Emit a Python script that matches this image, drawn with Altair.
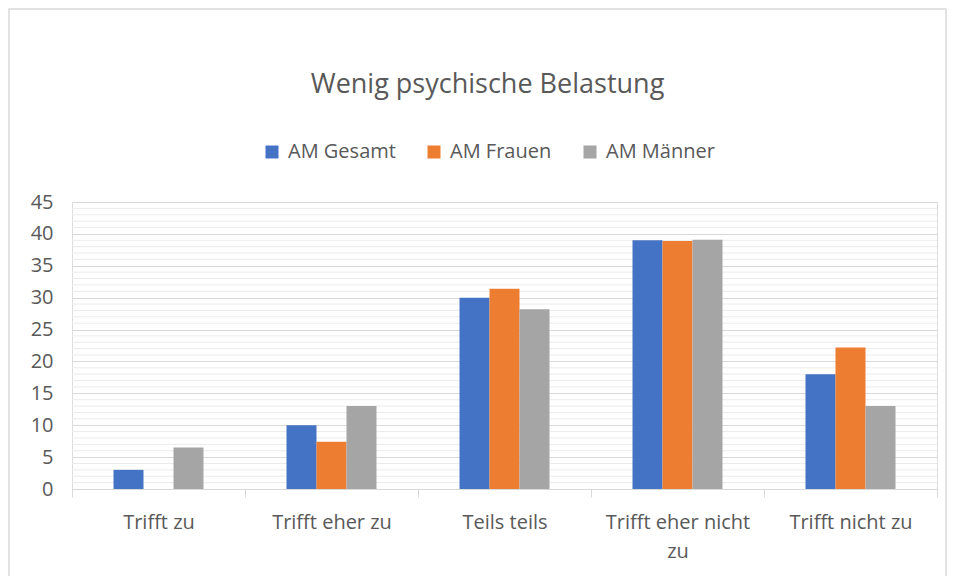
import altair as alt
import pandas as pd

title_text = ["Wenig psychische Belastung"]
categories = ["Trifft zu", "Trifft eher zu", "Teils teils", "Trifft eher nicht zu", "Trifft nicht zu"]
series = ["AM Gesamt", "AM Frauen", "AM Männer"]
gesamt = [3.0, 10.0, 30.0, 39.0, 18.0]
frauen = [0.0, 7.4, 31.4, 38.9, 22.2]
maenner = [6.5, 13.0, 28.2, 39.1, 13.0]
colors = ["#4472C4", "#ED7D31", "#A5A5A5"]
major_ticks = list(range(0, 46, 5))
minor_ticks = [v for v in range(0, 46) if v % 5 != 0]

rows = []
for name, vals in zip(series, [gesamt, frauen, maenner]):
    for c, v in zip(categories, vals):
        rows.append({"cat": c, "series": name, "value": v})
df = pd.DataFrame(rows)

FONT = "Open Sans"
TXT = "#595959"

y_axis = alt.Axis(
    title=None,
    values=major_ticks,
    domain=False,
    ticks=False,
    tickSize=0,
    labelPadding=19,
    labelFont=FONT,
    labelFontSize=20,
    labelColor=TXT,
    gridColor="#d9d9d9",
    gridWidth=1,
)
y_scale = alt.Scale(domain=[0, 45])

frame = alt.Chart(pd.DataFrame({"a": [0]})).mark_rect(
    filled=False, stroke="#d9d9d9", strokeWidth=1.5
).encode(
    x=alt.value(-63), x2=alt.value(874), y=alt.value(-193), y2=alt.value(420)
)

title = alt.Chart(pd.DataFrame({"t": title_text})).mark_text(
    font=FONT, fontSize=27, color=TXT, align="center", baseline="alphabetic"
).encode(
    text="t:N", x=alt.value(415.5), y=alt.value(-109)
)

minor = alt.Chart(pd.DataFrame({"value": minor_ticks})).mark_rule(
    color="#ebebeb", strokeWidth=1
).encode(
    y=alt.Y("value:Q", scale=y_scale, axis=y_axis)
)

bars = alt.Chart(df).mark_bar().encode(
    x=alt.X(
        "cat:N",
        sort=categories,
        scale=alt.Scale(paddingInner=0, paddingOuter=0),
        axis=alt.Axis(
            title=None,
            labelAngle=0,
            tickBand="extent",
            domainColor="#d9d9d9",
            tickColor="#d9d9d9",
            tickSize=8,
            labelPadding=15,
            labelFont=FONT,
            labelFontSize=20,
            labelColor=TXT,
            labelLineHeight=29,
            labelExpr="datum.label == 'Trifft eher nicht zu' ? ['Trifft eher nicht', 'zu'] : datum.label",
        ),
    ),
    xOffset=alt.XOffset(
        "series:N", sort=series,
        scale=alt.Scale(paddingInner=0, paddingOuter=0, range=[41.5, 131.5])
    ),
    y=alt.Y("value:Q", scale=y_scale, axis=y_axis),
    color=alt.Color(
        "series:N",
        sort=series,
        scale=alt.Scale(domain=series, range=colors),
        legend=alt.Legend(
            title=None,
            orient="none",
            legendX=190,
            legendY=-60,
            direction="horizontal",
            labelFont=FONT,
            labelFontSize=20,
            labelColor=TXT,
            symbolType="square",
            symbolSize=169,
            symbolStrokeWidth=0,
            columnPadding=28,
            labelOffset=6,
            padding=0,
        ),
    ),
)

chart = alt.layer(frame, title, minor, bars).properties(
    width=865,
    height=287,
    autosize=alt.AutoSizeParams(type="none"),
    padding={"left": 64, "top": 194, "right": 11, "bottom": 90},
).configure_view(stroke=None).configure(background="white")

chart.save("out.html", embed_options={"renderer": "svg", "actions": False})
